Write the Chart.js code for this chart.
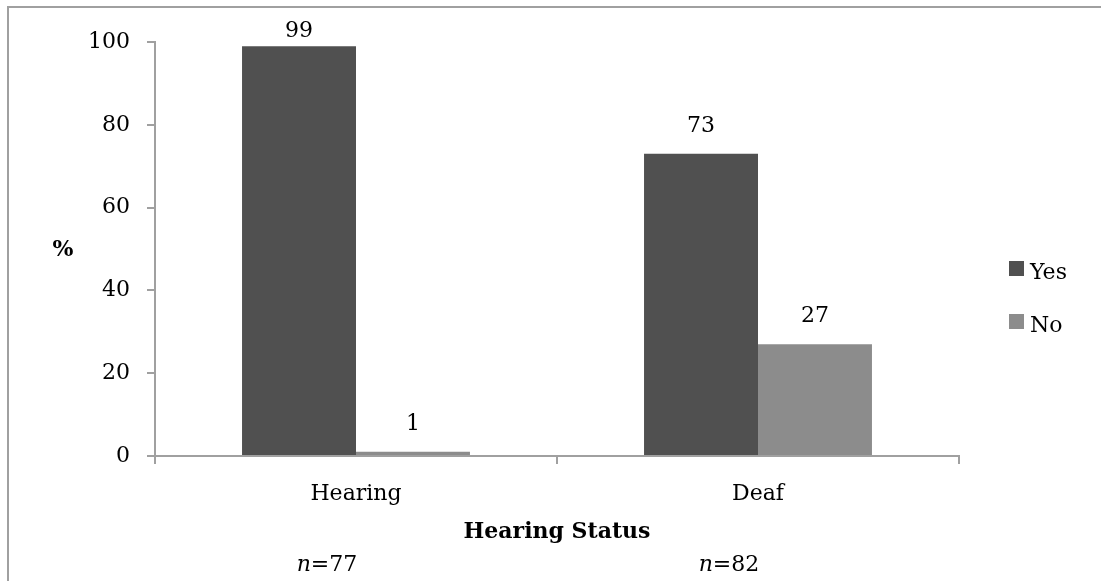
<!DOCTYPE html>
<html>
<head>
<meta charset="utf-8">
<script src="https://cdn.jsdelivr.net/npm/chart.js@4.4.1/dist/chart.umd.min.js"></script>
<style>
  html, body { margin: 0; padding: 0; background: #fff; }
  #wrap { width: 1101px; height: 581px; }
</style>
</head>
<body>
<div id="wrap"><canvas id="chart" width="1101" height="581"></canvas></div>
<script>
// Answers by hearing status, in percent
const categories = ['Hearing', 'Deaf'];
const sampleSizes = ['77', '82'];
const seriesNames = ['Yes', 'No'];
const yesValues = [99, 73];
const noValues = [1, 27];
const yTicks = [0, 20, 40, 60, 80, 100];

const axisGrey = '#a0a0a0';
const fontFamily = '"DejaVu Serif", serif';

Chart.defaults.font.family = fontFamily;
Chart.defaults.font.size = 22;
Chart.defaults.color = '#000';

// frame, value labels, legend and the extra captions
const extras = {
  id: 'extras',
  afterDatasetsDraw(chart) {
    const ctx = chart.ctx;
    ctx.save();
    ctx.font = '22px ' + fontFamily;
    ctx.fillStyle = '#000';
    ctx.textAlign = 'center';
    ctx.textBaseline = 'alphabetic';
    chart.data.datasets.forEach((ds, i) => {
      chart.getDatasetMeta(i).data.forEach((bar, j) => {
        const y = Math.max(bar.y - 22, 37);
        ctx.fillText(String(ds.data[j]), bar.x, y);
      });
    });
    ctx.restore();
  },
  afterDraw(chart) {
    const ctx = chart.ctx;
    const area = chart.chartArea;
    const x = chart.scales.x;
    ctx.save();

    // outer frame, only its top and left edges are on the canvas
    ctx.strokeStyle = axisGrey;
    ctx.lineWidth = 2;
    ctx.strokeRect(8, 7, 1300, 800);

    // "%" beside the value axis
    ctx.fillStyle = '#000';
    ctx.textAlign = 'center';
    ctx.textBaseline = 'alphabetic';
    ctx.font = 'bold 22px ' + fontFamily;
    ctx.fillText('%', 63, (area.top + area.bottom) / 2 + 7);

    // sample sizes under the axis title
    categories.forEach((c, i) => {
      const cx = x.getPixelForValue(i) - 29;
      ctx.font = 'italic 22px ' + fontFamily;
      const nW = ctx.measureText('n').width;
      ctx.font = '22px ' + fontFamily;
      const rest = '=' + sampleSizes[i];
      const rW = ctx.measureText(rest).width;
      const left = cx - (nW + rW) / 2;
      ctx.textAlign = 'left';
      ctx.font = 'italic 22px ' + fontFamily;
      ctx.fillText('n', left, 571);
      ctx.font = '22px ' + fontFamily;
      ctx.fillText(rest, left + nW, 571);
    });

    // legend
    ctx.textAlign = 'left';
    ctx.font = '22px ' + fontFamily;
    chart.data.datasets.forEach((ds, i) => {
      const top = 261 + i * 53;
      ctx.fillStyle = ds.backgroundColor;
      ctx.fillRect(1009, top, 15, 15);
      ctx.fillStyle = '#000';
      ctx.fillText(ds.label, 1030, top + 18);
    });
    ctx.restore();
  }
};

new Chart(document.getElementById('chart'), {
  type: 'bar',
  data: {
    labels: categories,
    datasets: [
      {
        label: seriesNames[0],
        data: yesValues,
        backgroundColor: '#505050',
        categoryPercentage: 0.567,
        barPercentage: 1
      },
      {
        label: seriesNames[1],
        data: noValues,
        backgroundColor: '#8c8c8c',
        categoryPercentage: 0.567,
        barPercentage: 1
      }
    ]
  },
  options: {
    responsive: false,
    animation: false,
    devicePixelRatio: 1,
    layout: { padding: { top: 42, right: 142, bottom: 0, left: 0 } },
    plugins: {
      legend: { display: false },
      tooltip: { enabled: false }
    },
    scales: {
      x: {
        afterFit(scale) { scale.height = 125; },
        grid: {
          drawOnChartArea: false,
          drawTicks: true,
          tickLength: 8,
          color: axisGrey,
          lineWidth: 2,
          offset: true
        },
        border: { color: axisGrey, width: 2 },
        ticks: { padding: 17, font: { size: 22 } },
        title: {
          display: true,
          text: 'Hearing Status',
          font: { size: 22, weight: 'bold' },
          padding: { top: 0, bottom: 36 }
        }
      },
      y: {
        min: 0,
        max: 100,
        afterFit(scale) { scale.width = 155; },
        afterBuildTicks(scale) { scale.ticks = yTicks.map(v => ({ value: v })); },
        grid: {
          drawOnChartArea: false,
          drawTicks: true,
          tickLength: 8,
          color: axisGrey,
          lineWidth: 2
        },
        border: { color: axisGrey, width: 2 },
        ticks: { padding: 17, font: { size: 22 } }
      }
    }
  },
  plugins: [extras]
});
</script>
</body>
</html>
